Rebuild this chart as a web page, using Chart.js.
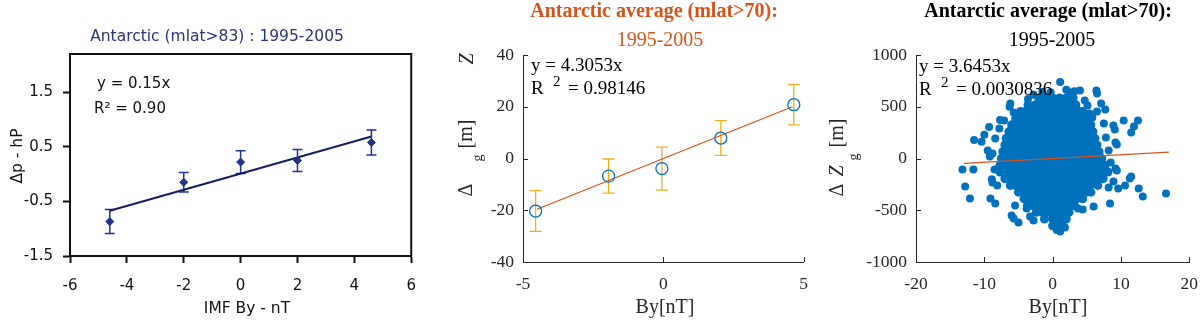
<!DOCTYPE html>
<html>
<head>
<meta charset="utf-8">
<script src="https://cdn.jsdelivr.net/npm/chart.js@4.4.1/dist/chart.umd.min.js"></script>
<style>
  html, body { margin: 0; padding: 0; background: #fff; overflow: hidden; width: 1200px; height: 331px; }
  canvas { position: absolute; top: 0; }
  #c1 { left: 0; }
  #c2 { left: 430px; }
  #c3 { left: 820px; }
</style>
</head>
<body>
<canvas id="c1" width="430" height="331"></canvas>
<canvas id="c2" width="390" height="331"></canvas>
<canvas id="c3" width="390" height="331"></canvas>
<script>
// left panel: Antarctic (mlat>83), binned IMF By vs pressure anomaly
const byBins1 = [-4.6, -2.0, 0.0, 2.0, 4.6];
const dpMean1 = [-0.87, -0.15, 0.22, 0.25, 0.58];
const dpErr1 = [0.22, 0.18, 0.21, 0.20, 0.23];
const fit1 = [[-4.6, -0.67], [4.6, 0.69]];
const xTicks1 = [-6, -4, -2, 0, 2, 4, 6];
const yTicks1 = [-1.5, -0.5, 0.5, 1.5];

// middle panel: binned averages (mlat>70)
const byBins2 = [-4.55, -1.95, -0.05, 2.05, 4.65];
const dzMean2 = [-20.3, -6.8, -3.9, 7.9, 20.8];
const dzErr2 = [7.9, 6.6, 8.3, 6.7, 7.8];
const fit2 = [[-4.5, -19.6], [4.6, 20.0]];
const xTicks2 = [-5, 0, 5];
const yTicks2 = [-40, -20, 0, 20, 40];

// right panel: all daily values (dense core read row by row, then the loose dots)
const xTicks3 = [-20, -10, 0, 10, 20];
const yTicks3 = [-1000, -500, 0, 500, 1000];
const fit3 = [[-13, -47], [17, 62]];
const coreRows3 = [
  [585, [-2, -1, 0, 1, 2, 3]],
  [520, [-3.6, -2.5, -1.5, -0.5, 0.5, 1.5, 2.5, 3.4]],
  [455, [-4.7, -4, -3, -2, -1, 0, 1, 2, 3, 4, 4.4]],
  [390, [-5.4, -4.5, -3.5, -2.5, -1.5, -0.5, 0.5, 1.5, 2.5, 3.5, 4.5, 5.2]],
  [325, [-6, -5, -4, -3, -2, -1, 0, 1, 2, 3, 4, 5, 5.6]],
  [260, [-6.4, -5.5, -4.5, -3.5, -2.5, -1.5, -0.5, 0.5, 1.5, 2.5, 3.5, 4.5, 5.5, 5.9]],
  [195, [-6.8, -6, -5, -4, -3, -2, -1, 0, 1, 2, 3, 4, 5, 6, 6.2]],
  [130, [-7, -6.5, -5.5, -4.5, -3.5, -2.5, -1.5, -0.5, 0.5, 1.5, 2.5, 3.5, 4.5, 5.5, 6.5]],
  [65, [-7.3, -7, -6, -5, -4, -3, -2, -1, 0, 1, 2, 3, 4, 5, 6, 6.8]],
  [0, [-7.5, -6.5, -5.5, -4.5, -3.5, -2.5, -1.5, -0.5, 0.5, 1.5, 2.5, 3.5, 4.5, 5.5, 6.5, 7.2]],
  [-65, [-7.7, -7, -6, -5, -4, -3, -2, -1, 0, 1, 2, 3, 4, 5, 6, 7, 7.7]],
  [-130, [-7.7, -6.5, -5.5, -4.5, -3.5, -2.5, -1.5, -0.5, 0.5, 1.5, 2.5, 3.5, 4.5, 5.5, 6.5, 7.5, 8.1]],
  [-195, [-7, -6, -5, -4, -3, -2, -1, 0, 1, 2, 3, 4, 5, 6, 7, 7.4]],
  [-260, [-6.2, -5.5, -4.5, -3.5, -2.5, -1.5, -0.5, 0.5, 1.5, 2.5, 3.5, 4.5, 5.5, 6.6]],
  [-325, [-5, -4, -3, -2, -1, 0, 1, 2, 3, 4, 5, 5.6]],
  [-390, [-4.2, -3.5, -2.5, -1.5, -0.5, 0.5, 1.5, 2.5, 3.5, 4.4]],
  [-455, [-3.7, -3, -2, -1, 0, 1, 2, 3, 3.2]],
  [-520, [-2.4, -1.5, -0.5, 0.5, 1.5, 2.4]],
  [-585, [-1.2, 0, 1, 2]],
  [-650, [0, 0.7, 1.4]]
];
const outliers3 = [
  [1.1, 740], [-1.5, 646], [2.6, 638], [4.0, 657], [6.4, 657], [6.5, 628], [4.7, 560], [5.1, 512],
  [7.1, 531], [6.5, 454], [7.7, 473], [5.4, 435], [5.8, 396], [-0.3, 640], [2.0, 665], [3.2, 650],
  [-2.8, 615], [-3.6, 575],
  [10.4, 367], [12.5, 367], [11.9, 309], [11.5, 251], [8.9, 319], [9.1, 280], [7.5, 338], [7.8, 203],
  [9.2, 155], [9.4, 135], [8.2, 77], [8.5, -39], [9.2, -97], [9.4, -115],
  [-11.5, 178], [-10.4, 162], [-10.0, 230], [-9.3, 305], [-8.4, 193], [-7.8, 290], [-7.1, 367],
  [-7.7, 371], [-5.7, 444], [-6.2, 531], [-6.3, 500], [-9.5, 77], [-8.8, 48], [-9.2, 19],
  [-13.2, -106], [-11.6, -106], [-12.8, -270], [-12.1, -386], [-8.8, -232], [-8.1, -261], [-9.1, -386],
  [-8.4, -435], [-8.5, -107], [-8.9, -200], [-6.0, -551], [-5.7, -580], [-5.0, -618], [-5.5, -454],
  [-3.8, -483], [-2.8, -599], [-3.3, -560],
  [11.5, -174], [11.3, -193], [10.6, -261], [9.6, -290], [12.6, -290], [13.2, -367], [16.6, -338],
  [8.9, -222], [8.2, -280], [8.4, -435], [6.0, -464], [4.4, -493], [3.7, -483], [1.1, -705],
  [1.8, -667], [0.6, -690]
];

const SANS = "'DejaVu Sans', sans-serif";
const SERIF = "'Liberation Serif', 'Times New Roman', serif";
const AX = "#262626";

function toPoints(pairs) {
  return pairs.map(([x, y]) => ({ x, y }));
}

function fixedTicks(list) {
  return s => { s.ticks = list.map(v => ({ value: v })); };
}

// vertical error bars, drawn under the markers
function errorBars(xs, ys, errs, color, cap, width) {
  return {
    id: "errorBars",
    beforeDatasetsDraw(chart) {
      const { ctx, scales: { x, y } } = chart;
      ctx.save();
      ctx.strokeStyle = color;
      ctx.lineWidth = width;
      ctx.beginPath();
      xs.forEach((v, i) => {
        const px = x.getPixelForValue(v);
        const top = y.getPixelForValue(ys[i] + errs[i]);
        const bot = y.getPixelForValue(ys[i] - errs[i]);
        ctx.moveTo(px, top); ctx.lineTo(px, bot);
        ctx.moveTo(px - cap, top); ctx.lineTo(px + cap, top);
        ctx.moveTo(px - cap, bot); ctx.lineTo(px + cap, bot);
      });
      ctx.stroke();
      ctx.restore();
    }
  };
}

// matlab style: short ticks pointing into the axes
const inwardTicks = {
  id: "inwardTicks",
  afterDraw(chart) {
    const { ctx, chartArea: a, scales: { x, y } } = chart;
    ctx.save();
    ctx.strokeStyle = AX;
    ctx.lineWidth = 1;
    ctx.beginPath();
    x.ticks.forEach(t => {
      const px = Math.round(x.getPixelForValue(t.value)) + 0.5;
      ctx.moveTo(px, a.bottom); ctx.lineTo(px, a.bottom - 5);
    });
    y.ticks.forEach(t => {
      const py = Math.round(y.getPixelForValue(t.value)) + 0.5;
      ctx.moveTo(a.left, py); ctx.lineTo(a.left + 5, py);
    });
    ctx.stroke();
    ctx.restore();
  }
};

// excel style closed frame
const frame = {
  id: "frame",
  afterDraw(chart) {
    const { ctx, chartArea: a } = chart;
    ctx.save();
    ctx.strokeStyle = "#111";
    ctx.lineWidth = 2;
    ctx.beginPath();
    ctx.moveTo(a.left, a.top); ctx.lineTo(a.right, a.top); ctx.lineTo(a.right, a.bottom);
    ctx.stroke();
    ctx.restore();
  }
};

// titles, labels and fit notes; x/y given in page pixels
function textLayer(items, offsetX) {
  return {
    id: "textLayer",
    afterDraw(chart) {
      const ctx = chart.ctx;
      items.forEach(it => {
        ctx.save();
        ctx.font = it.font;
        ctx.fillStyle = it.color || "#000";
        ctx.textAlign = it.align || "left";
        ctx.textBaseline = "alphabetic";
        ctx.translate(it.x - offsetX, it.y);
        if (it.rot) ctx.rotate(-Math.PI / 2);
        ctx.fillText(it.t, 0, 0);
        ctx.restore();
      });
    }
  };
}

function matlabScales(xMin, xMax, xTicks, yMin, yMax, yTicks, yWidth) {
  const tickFont = { family: SERIF, size: 17.5 };
  return {
    x: {
      type: "linear", min: xMin, max: xMax,
      afterBuildTicks: fixedTicks(xTicks),
      afterFit: s => { s.height = 69; },
      grid: { drawOnChartArea: false, drawTicks: false },
      border: { color: AX, width: 1 },
      ticks: { padding: 12, color: AX, font: tickFont, maxRotation: 0, autoSkip: false, callback: v => String(v) }
    },
    y: {
      type: "linear", min: yMin, max: yMax,
      afterBuildTicks: fixedTicks(yTicks),
      afterFit: s => { s.width = yWidth; },
      grid: { drawOnChartArea: false, drawTicks: false },
      border: { color: AX, width: 1 },
      ticks: { padding: 9, color: AX, font: tickFont, autoSkip: false, callback: v => String(v) }
    }
  };
}

const baseOptions = {
  responsive: false,
  animation: false,
  events: [],
  plugins: { legend: { display: false }, tooltip: { enabled: false } }
};

// ---------- left panel ----------
new Chart(document.getElementById("c1"), {
  type: "scatter",
  data: {
    datasets: [
      {
        data: byBins1.map((x, i) => ({ x, y: dpMean1[i] })),
        pointStyle: "rectRot", pointRadius: 4,
        backgroundColor: "#23338c", borderColor: "#23338c", borderWidth: 1,
        order: 0
      },
      {
        data: toPoints(fit1), showLine: true, pointRadius: 0,
        borderColor: "#16205e", borderWidth: 2,
        order: 1
      }
    ]
  },
  options: {
    ...baseOptions,
    layout: { padding: { top: 54, right: 5, left: 0, bottom: 0 } },
    scales: {
      x: {
        type: "linear", min: -6, max: 6,
        afterBuildTicks: fixedTicks(xTicks1),
        afterFit: s => { s.height = 75; },
        grid: { drawOnChartArea: false, tickLength: 7, tickWidth: 2, color: "#111" },
        border: { color: "#111", width: 2 },
        ticks: { padding: 14, color: "#111", font: { family: SANS, size: 15 }, maxRotation: 0, autoSkip: false, callback: v => String(v) }
      },
      y: {
        type: "linear", min: -1.5, max: 2.2,
        afterBuildTicks: fixedTicks(yTicks1),
        afterFit: s => { s.width = 70; },
        grid: { drawOnChartArea: false, tickLength: 7, tickWidth: 2, color: "#111" },
        border: { color: "#111", width: 2 },
        ticks: { padding: 10, color: "#111", font: { family: SANS, size: 15 }, autoSkip: false, callback: v => String(v) }
      }
    }
  },
  plugins: [
    errorBars(byBins1, dpMean1, dpErr1, "#23338c", 5, 1.5),
    frame,
    textLayer([
      { t: "Antarctic (mlat>83) : 1995-2005", x: 217, y: 41, font: "15.5px " + SANS, color: "#2b3476", align: "center" },
      { t: "y = 0.15x", x: 97, y: 88, font: "15px " + SANS, color: "#111" },
      { t: "R² = 0.90", x: 94, y: 113, font: "15px " + SANS, color: "#111" },
      { t: "Δp - hP", x: 22, y: 156, font: "15.5px " + SANS, color: "#111", align: "center", rot: true },
      { t: "IMF By - nT", x: 247, y: 313, font: "15.5px " + SANS, color: "#111", align: "center" }
    ], 0)
  ]
});

// ---------- middle panel ----------
new Chart(document.getElementById("c2"), {
  type: "scatter",
  data: {
    datasets: [
      {
        data: byBins2.map((x, i) => ({ x, y: dzMean2[i] })),
        pointStyle: "circle", pointRadius: 6,
        backgroundColor: "rgba(0,0,0,0)", borderColor: "#0072bd", borderWidth: 1.3,
        order: 0
      },
      {
        data: toPoints(fit2), showLine: true, pointRadius: 0,
        borderColor: "#d95319", borderWidth: 1.2,
        order: 1
      }
    ]
  },
  options: {
    ...baseOptions,
    layout: { padding: { top: 55, right: 13, left: 0, bottom: 0 } },
    scales: matlabScales(-5, 5, xTicks2, -40, 40, yTicks2, 93)
  },
  plugins: [
    errorBars(byBins2, dzMean2, dzErr2, "#edb120", 6, 1.3),
    inwardTicks,
    textLayer([
      { t: "Antarctic average (mlat>70):", x: 654, y: 17, font: "bold 20px " + SERIF, color: "#d95319", align: "center" },
      { t: "1995-2005", x: 660, y: 46, font: "20px " + SERIF, color: "#d95319", align: "center" },
      { t: "y = 4.3053x", x: 531, y: 71, font: "19px " + SERIF },
      { t: "R", x: 531, y: 94, font: "19px " + SERIF },
      { t: "2", x: 553, y: 86, font: "15px " + SERIF },
      { t: "= 0.98146", x: 568, y: 94, font: "19px " + SERIF },
      { t: "Δ", x: 472, y: 190, font: "20px " + SERIF, color: AX, align: "center", rot: true },
      { t: "g", x: 482, y: 158, font: "14px " + SERIF, color: AX, align: "center", rot: true },
      { t: "[m]", x: 472, y: 134, font: "20px " + SERIF, color: AX, align: "center", rot: true },
      { t: "Z", x: 473, y: 59, font: "italic 20px " + SERIF, color: AX, align: "center", rot: true },
      { t: "By[nT]", x: 665, y: 313, font: "20px " + SERIF, color: AX, align: "center" }
    ], 430)
  ]
});

// ---------- right panel ----------
const corePoints3 = coreRows3.flatMap(([y, xs]) => xs.map(x => ({ x, y })));

new Chart(document.getElementById("c3"), {
  type: "scatter",
  data: {
    datasets: [
      {
        data: toPoints(fit3), showLine: true, pointRadius: 0,
        borderColor: "#d95319", borderWidth: 1.2,
        order: 0
      },
      {
        data: corePoints3, pointRadius: 4.5, pointBorderWidth: 0,
        backgroundColor: "#0072bd", borderColor: "#0072bd",
        order: 1
      },
      {
        data: toPoints(outliers3), pointRadius: 4, pointBorderWidth: 0,
        backgroundColor: "#0072bd", borderColor: "#0072bd",
        order: 2
      }
    ]
  },
  options: {
    ...baseOptions,
    layout: { padding: { top: 55, right: 13, left: 0, bottom: 0 } },
    scales: matlabScales(-20, 20, xTicks3, -1000, 1000, yTicks3, 96)
  },
  plugins: [
    inwardTicks,
    textLayer([
      { t: "Antarctic average (mlat>70):", x: 1048, y: 17, font: "bold 20px " + SERIF, align: "center" },
      { t: "1995-2005", x: 1052, y: 46, font: "20px " + SERIF, align: "center" },
      { t: "y = 3.6453x", x: 919, y: 72, font: "19px " + SERIF },
      { t: "R", x: 919, y: 95, font: "19px " + SERIF },
      { t: "2", x: 941, y: 87, font: "15px " + SERIF },
      { t: "= 0.0030836", x: 956, y: 95, font: "19px " + SERIF },
      { t: "Δ", x: 843, y: 190, font: "20px " + SERIF, color: AX, align: "center", rot: true },
      { t: "Z", x: 843, y: 171, font: "italic 20px " + SERIF, color: AX, align: "center", rot: true },
      { t: "g", x: 858, y: 157, font: "14px " + SERIF, color: AX, align: "center", rot: true },
      { t: "[m]", x: 843, y: 133, font: "20px " + SERIF, color: AX, align: "center", rot: true },
      { t: "By[nT]", x: 1058, y: 313, font: "20px " + SERIF, color: AX, align: "center" }
    ], 820)
  ]
});
</script>
</body>
</html>
